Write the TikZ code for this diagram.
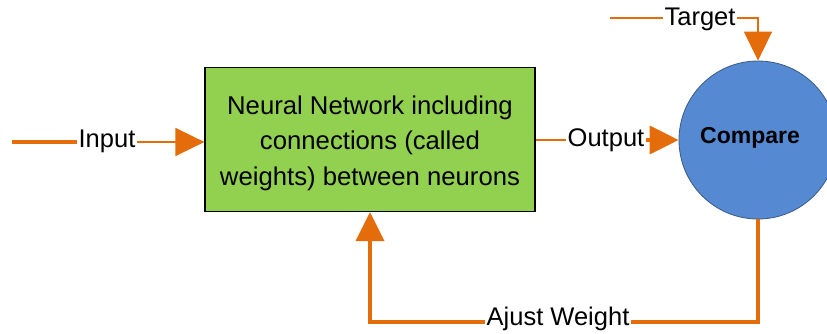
\documentclass[tikz,border=0pt]{standalone}
\usepackage{fontspec}
\setmainfont{Liberation Sans}
\usetikzlibrary{arrows.meta}
\definecolor{ora}{RGB}{228,108,10}
\definecolor{nngreen}{RGB}{146,208,80}
\definecolor{cmpblue}{RGB}{85,138,210}
\definecolor{cmpedge}{RGB}{60,90,130}
\tikzset{
  thickline/.style={draw=ora, line width=4pt},
  thinline/.style={draw=ora, line width=1.5pt},
  bigtip/.style={-{Triangle[length=29pt,width=28pt]}, ora},
  lbl/.style={font=\fontsize{25.5}{30}\selectfont, text=black, inner sep=1.5pt, fill=white},
  nnbox/.style={draw=black, line width=1.2pt, fill=nngreen, minimum width=330pt, minimum height=144pt},
  nntext/.style={align=center, font=\fontsize{25.7}{35.5}\selectfont, text=black},
  cmpcircle/.style={circle, draw=cmpedge, line width=0.8pt, fill=cmpblue, minimum size=158pt, inner sep=0pt}
}
\begin{document}
\begin{tikzpicture}[x=1pt,y=-1pt]
\useasboundingbox (0,0) rectangle (827,333);
\clip (0,0) rectangle (827,333);
\fill[white] (0,0) rectangle (827,333);
% main box
\node[nnbox] (box) at (370,139.5) {};
\node[nntext] (boxtxt) at (370,143) {Neural Network including\\connections (called\\weights) between neurons};
% compare circle
\node[cmpcircle] (cmp) at (758,140) {};
\node[font=\bfseries\fontsize{23}{28}\selectfont, text=black] (cmptxt) at (750,138) {Compare};
% input
\coordinate (inS) at (12,142);
\node[lbl] (inL) at (107,141) {Input};
\draw[thickline] (inS) -- (inL.west |- inS);
\draw[thinline, bigtip] (inL.east |- inS) -- (box.west |- inS);
% output
\node[lbl] (outL) at (606,140) {Output};
\draw[thinline] (box.east |- 0,140) -- (outL.west |- 0,140);
\draw[thickline, bigtip] (outL.east |- 0,140) -- (cmp.west);
% target
\coordinate (tS) at (610,18);
\node[lbl] (tL) at (700,19) {Target};
\draw[thinline] (tS) -- (tL.west |- tS);
\draw[thinline, bigtip] (tL.east |- tS) -| (cmp.north);
% feedback
\node[lbl] (aj) at (558,319) {Ajust Weight};
\draw[thickline] (cmp.south) |- (aj.east |- 0,322);
\draw[thickline, bigtip] (aj.west |- 0,322) -| (box.south);
\end{tikzpicture}
\end{document}
